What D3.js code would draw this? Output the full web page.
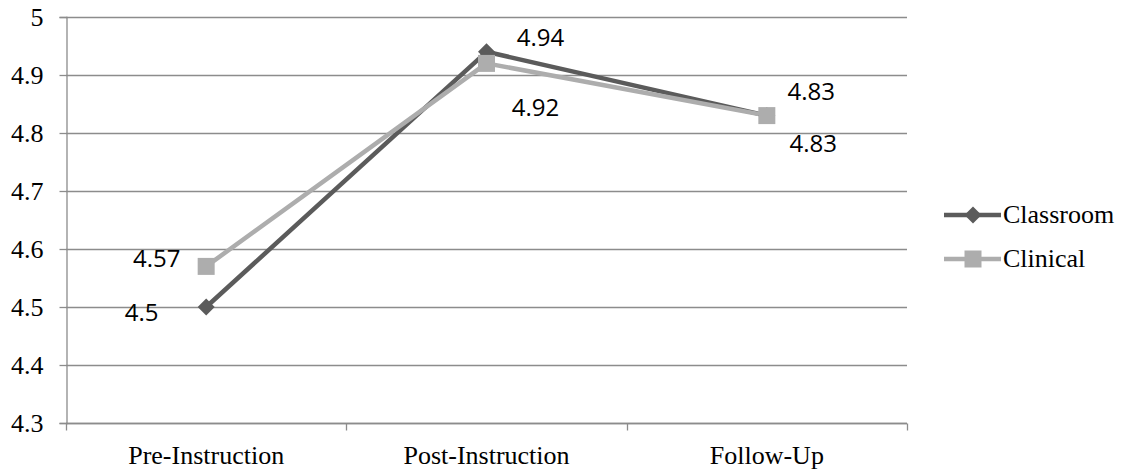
<!DOCTYPE html>
<html>
<head>
<meta charset="utf-8">
<script src="https://cdn.jsdelivr.net/npm/d3@7"></script>
<style>
  html, body { margin: 0; padding: 0; background: #fff; }
  svg { display: block; }
</style>
</head>
<body>
<svg id="chart" width="1122" height="472"></svg>
<script>
// Mean scores per phase for the two instruction groups
const categories = ["Pre-Instruction", "Post-Instruction", "Follow-Up"];
const classroom = [4.5, 4.94, 4.83];
const clinical = [4.57, 4.92, 4.83];
const yTicks = [4.3, 4.4, 4.5, 4.6, 4.7, 4.8, 4.9, 5];
const seriesNames = ["Classroom", "Clinical"];

const serif = "'Liberation Serif', 'Times New Roman', serif";
const sans = "'Open Sans', 'Liberation Sans', sans-serif";

const series = [
  { name: seriesNames[0], values: classroom, color: "#5b5b5b", marker: "diamond",
    // value label offsets (dx, baseline dy) relative to each point
    offsets: [[-64.5, 13.5], [54, -6], [44.5, -15.5]] },
  { name: seriesNames[1], values: clinical, color: "#adadad", marker: "square",
    offsets: [[-49.5, 0.5], [49, 52.5], [46.5, 36]] }
];

const svg = d3.select("#chart");
const margin = { left: 66, top: 17 };
const width = 907 - 66, height = 423 - 17;

const g = svg.append("g").attr("transform", `translate(${margin.left},${margin.top})`);

const x = d3.scaleBand().domain(categories).range([0, width]).padding(0);
const y = d3.scaleLinear().domain([4.3, 5]).range([height, 0]);

const gridColor = "#8c8c8c";

// Horizontal gridlines
g.append("g")
  .selectAll("line")
  .data(yTicks)
  .join("line")
  .attr("x1", 0).attr("x2", width)
  .attr("y1", d => Math.round(y(d)) + 0.5).attr("y2", d => Math.round(y(d)) + 0.5)
  .attr("stroke", gridColor).attr("stroke-width", 1.3);

// Y axis
const yAxis = g.append("g")
  .attr("transform", "translate(0.5,0)")
  .call(d3.axisLeft(y).tickValues(yTicks).tickSize(7).tickPadding(16).tickFormat(d3.format("")));
yAxis.attr("font-family", null).attr("font-size", null);
yAxis.select(".domain").attr("stroke", gridColor).attr("stroke-width", 1.3);
yAxis.selectAll(".tick line").attr("stroke", gridColor).attr("stroke-width", 1.3);
yAxis.selectAll(".tick text")
  .style("font-family", serif)
  .style("font-size", "26px").attr("fill", "#000");

// X axis with tick marks on the category boundaries
const xAxis = g.append("g").attr("transform", `translate(0,${height + 0.5})`);
xAxis.append("line").attr("x1", 0).attr("x2", width)
  .attr("stroke", gridColor).attr("stroke-width", 1.3);
const boundaries = d3.range(categories.length + 1).map(i => i * x.step());
xAxis.selectAll("line.tk").data(boundaries).join("line").attr("class", "tk")
  .attr("x1", d => Math.round(d) + 0.5).attr("x2", d => Math.round(d) + 0.5)
  .attr("y1", 0).attr("y2", 7)
  .attr("stroke", gridColor).attr("stroke-width", 1.3);
xAxis.selectAll("text").data(categories).join("text")
  .attr("x", d => x(d) + x.bandwidth() / 2)
  .attr("y", 40)
  .attr("text-anchor", "middle")
  .style("font-family", serif)
  .style("font-size", "26px").attr("fill", "#000")
  .text(d => d);

const cx = c => x(c) + x.bandwidth() / 2;
const line = d3.line().x((d, i) => cx(categories[i])).y(d => y(d));

function drawMarker(sel, type, color, px, py) {
  if (type === "diamond") {
    const r = 8.5;
    sel.append("path")
      .attr("d", `M${px},${py - r}L${px + r},${py}L${px},${py + r}L${px - r},${py}Z`)
      .attr("fill", color);
  } else {
    const s = 17;
    sel.append("rect")
      .attr("x", px - s / 2).attr("y", py - s / 2)
      .attr("width", s).attr("height", s)
      .attr("fill", color);
  }
}

// Series lines, markers, and value labels (Clinical drawn on top)
series.forEach(s => {
  g.append("path").datum(s.values)
    .attr("d", line)
    .attr("fill", "none")
    .attr("stroke", s.color)
    .attr("stroke-width", 4.5)
    .attr("stroke-linejoin", "round");
});
series.forEach(s => {
  const mg = g.append("g");
  s.values.forEach((v, i) => drawMarker(mg, s.marker, s.color, cx(categories[i]), y(v)));
});
series.forEach(s => {
  g.append("g").selectAll("text").data(s.values).join("text")
    .attr("x", (d, i) => cx(categories[i]) + s.offsets[i][0])
    .attr("y", (d, i) => y(d) + s.offsets[i][1])
    .attr("text-anchor", "middle")
    .style("font-family", sans)
    .style("font-size", "24px").attr("fill", "#000")
    .text(d => d);
});

// Legend
const legend = svg.append("g");
series.forEach((s, i) => {
  const ly = 215 + i * 44;
  const lg = legend.append("g");
  lg.append("line").attr("x1", 944).attr("x2", 1001).attr("y1", ly).attr("y2", ly)
    .attr("stroke", s.color).attr("stroke-width", 4.5);
  drawMarker(lg, s.marker, s.color, 973, ly);
  lg.append("text").attr("x", 1003).attr("y", ly + 8)
    .style("font-family", serif)
    .style("font-size", "26px").attr("fill", "#000")
    .text(s.name);
});
</script>
</body>
</html>
